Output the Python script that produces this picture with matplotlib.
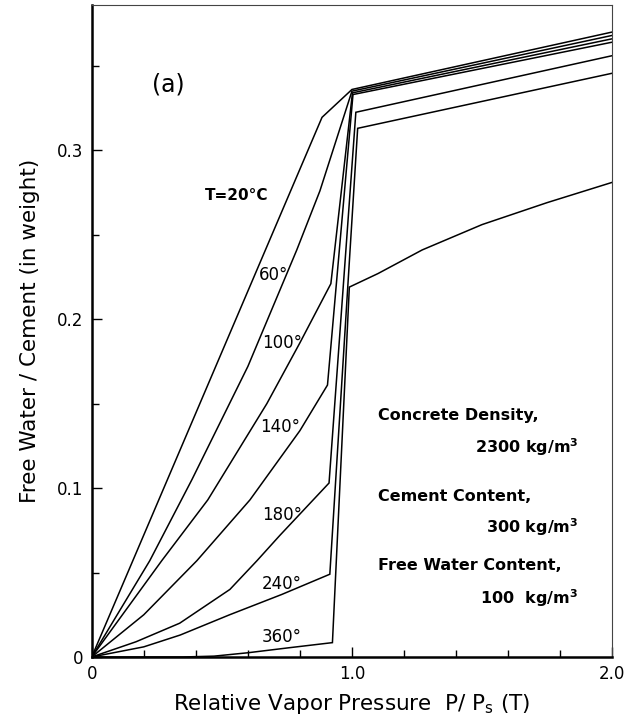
import matplotlib
matplotlib.use("Agg")
import matplotlib.pyplot as plt
from matplotlib.ticker import MultipleLocator, FixedLocator

# === Data (x = P/Ps, y = free water / cement) ===

x20 = [0, 0.885, 1.0, 2.0]
y20 = [0, 0.3195, 0.336, 0.370]

x60 = [0, 0.223, 0.385, 0.60, 0.788, 0.877, 1.0, 2.0]
y60 = [0, 0.057, 0.105, 0.172, 0.241, 0.276, 0.335, 0.368]

x100 = [0, 0.269, 0.446, 0.673, 0.80, 0.919, 1.002, 2.0]
y100 = [0, 0.057, 0.093, 0.150, 0.186, 0.221, 0.334, 0.366]

x140 = [0, 0.20, 0.404, 0.608, 0.80, 0.906, 1.004, 2.0]
y140 = [0, 0.025, 0.057, 0.093, 0.134, 0.161, 0.333, 0.364]

x180 = [0, 0.17, 0.338, 0.531, 0.635, 0.723, 0.912, 1.015, 2.0]
y180 = [0, 0.009, 0.020, 0.040, 0.057, 0.072, 0.103, 0.3225, 0.356]

x240 = [0, 0.2, 0.34, 0.53, 0.73, 0.915, 1.022, 2.0]
y240 = [0, 0.006, 0.013, 0.025, 0.037, 0.049, 0.313, 0.3456]

x360 = [0, 0.35, 0.47, 0.6, 0.76, 0.925, 0.99, 1.1, 1.27, 1.5, 1.75, 2.0]
y360 = [0, 0, 0.0005, 0.0025, 0.0055, 0.0085, 0.219, 0.227, 0.241, 0.256, 0.269, 0.281]

curves = [(x20, y20), (x60, y60), (x100, y100), (x140, y140),
          (x180, y180), (x240, y240), (x360, y360)]

# curve labels and where they sit
temp_labels = ['60°', '100°', '140°', '180°', '240°', '360°']
label_x = [0.70, 0.73, 0.725, 0.73, 0.73, 0.73]
label_y = [0.226, 0.186, 0.136, 0.084, 0.043, 0.012]

note_lines = ['Concrete Density,', '2300 kg/m$^\\mathbf{3}$',
              'Cement Content,', '300 kg/m$^\\mathbf{3}$',
              'Free Water Content,', '100  kg/m$^\\mathbf{3}$']

# === Figure ===

plt.rcParams['font.family'] = ['DejaVu Sans']
fig = plt.figure(figsize=(6.37, 7.17), dpi=100)
ax = fig.add_axes([0.144, 0.0837, 0.817, 0.9093])

for xs, ys in curves:
    ax.plot(xs, ys, color='black', lw=1.1, solid_joinstyle='miter')

ax.set_xlim(0, 2.0)
ax.set_ylim(0, 0.386)

ax.xaxis.set_major_locator(FixedLocator([0, 1.0, 2.0]))
ax.set_xticklabels(['0', '1.0', '2.0'])
ax.xaxis.set_minor_locator(MultipleLocator(0.2))
ax.yaxis.set_major_locator(FixedLocator([0, 0.1, 0.2, 0.3]))
ax.set_yticklabels(['0', '0.1', '0.2', '0.3'])
ax.yaxis.set_minor_locator(MultipleLocator(0.05))
ax.tick_params(which='both', direction='in', top=False, right=False,
               width=1.0, labelsize=12)
ax.tick_params(which='major', length=7, pad=6)
ax.tick_params(which='minor', length=5)

for side in ['left', 'bottom']:
    ax.spines[side].set_linewidth(1.8)
for side in ['top', 'right']:
    ax.spines[side].set_linewidth(0.8)
    ax.spines[side].set_color('#444444')

ax.set_xlabel('Relative Vapor Pressure  P/ P$_\\mathregular{s}$ (T)',
              fontsize=15.5, labelpad=6)
ax.set_ylabel('Free Water / Cement (in weight)', fontsize=15.5, labelpad=12)

ax.text(0.296, 0.339, '(a)', fontsize=17, ha='center', va='center')
ax.text(0.558, 0.273, 'T=20°C', fontsize=11, fontweight='bold',
        ha='center', va='center')

for t, lx, ly in zip(temp_labels, label_x, label_y):
    ax.text(lx, ly, t, fontsize=12, ha='center', va='center')

note_y = [0.143, 0.124, 0.095, 0.077, 0.054, 0.035]
for i, (txt, ny) in enumerate(zip(note_lines, note_y)):
    if i % 2 == 0:
        ax.text(1.1, ny, txt, fontsize=11.5, fontweight='bold',
                ha='left', va='center')
    else:
        ax.text(1.87, ny, txt, fontsize=11.5, fontweight='bold',
                ha='right', va='center')

fig.savefig('out.png', dpi=100)
